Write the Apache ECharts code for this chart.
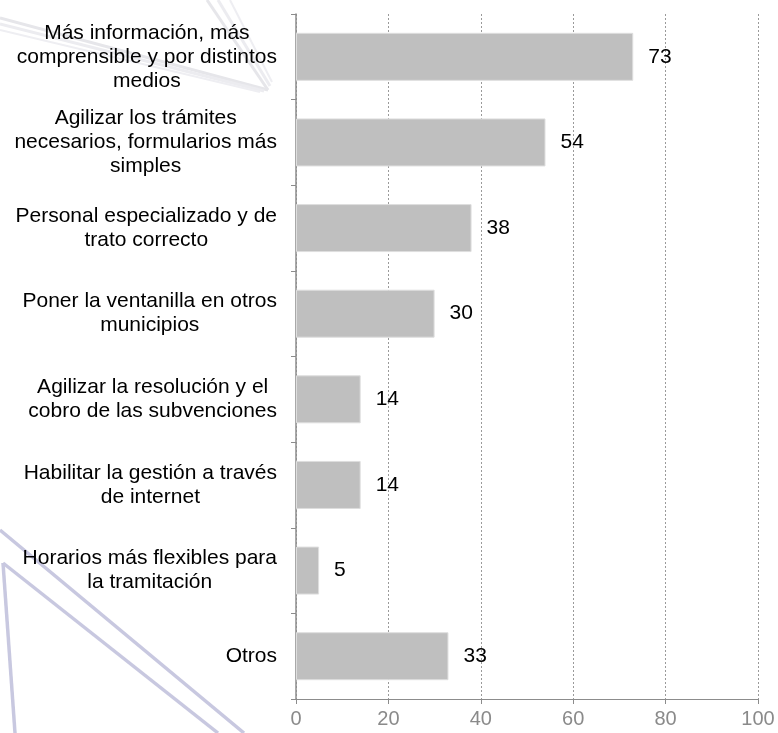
<!DOCTYPE html>
<html>
<head>
<meta charset="utf-8">
<script src="https://cdn.jsdelivr.net/npm/echarts@6/dist/echarts.min.js"></script>
<style>html,body{margin:0;padding:0;background:#fff}#c{width:778px;height:733px}</style>
</head>
<body>
<div id="c"></div>
<script>
const categories = [
  'Más información, más\ncomprensible y por distintos\nmedios',
  'Agilizar los trámites\nnecesarios, formularios más\nsimples',
  'Personal especializado y de\ntrato correcto',
  'Poner la ventanilla en otros\nmunicipios',
  'Agilizar la resolución y el\ncobro de las subvenciones',
  'Habilitar la gestión a través\nde internet',
  'Horarios más flexibles para\nla tramitación',
  'Otros'
];
const values = [73, 54, 38, 30, 14, 14, 5, 33];
const xTicks = [0, 20, 40, 60, 80, 100];

const chart = echarts.init(document.getElementById('c'), null, {renderer: 'canvas'});
const FONT = '"Liberation Sans", Arial, sans-serif';
const wm = (pts, color, w) => ({
  type: 'polyline', z: -10, silent: true,
  shape: {points: pts},
  style: {stroke: color, lineWidth: w, fill: null}
});
chart.setOption({
  animation: false,
  backgroundColor: '#ffffff',
  graphic: [
    wm([[0, 18], [268, 90]], '#e6e6ea', 3),
    wm([[0, 24], [264, 91]], '#ececf0', 3),
    wm([[0, 30], [260, 92]], '#eeeef2', 2),
    wm([[207, 0], [268, 90]], '#e6e6ea', 3),
    wm([[218, 0], [270, 86]], '#ececf0', 3),
    wm([[230, 0], [272, 82]], '#eeeef2', 2),
    wm([[0, 530], [244, 733]], '#c8c8e0', 3.5),
    wm([[3, 563], [218, 733]], '#c8c8e0', 3.5),
    wm([[3, 563], [15, 733]], '#c8c8e0', 3.5)
  ],
  grid: {left: 296, right: 20, top: 14, bottom: 34, containLabel: false},
  xAxis: {
    type: 'value', min: xTicks[0], max: xTicks[xTicks.length - 1], interval: 20,
    axisLine: {show: true, lineStyle: {color: '#8c8c8c', width: 1}},
    axisTick: {show: true, length: 5, lineStyle: {color: '#8c8c8c'}},
    axisLabel: {color: '#8a8a8a', fontSize: 20, fontFamily: FONT, margin: 10},
    splitLine: {show: true, lineStyle: {color: '#9a9a9a', type: [2, 2], width: 1}}
  },
  yAxis: {
    type: 'category', inverse: true, data: categories,
    axisLine: {show: true, lineStyle: {color: '#8c8c8c', width: 1.5}},
    axisTick: {show: true, length: 5, alignWithLabel: false, lineStyle: {color: '#8c8c8c'}},
    axisLabel: {
      color: '#000', fontSize: 21, fontFamily: FONT, margin: 19, align: 'right',
      formatter: v => v.split('\n').map(s => '{c|' + s + '}').join('\n'),
      rich: {c: {align: 'center', fontSize: 21, fontFamily: FONT, color: '#000', lineHeight: 24}}
    },
    splitLine: {show: false}
  },
  series: [{
    type: 'bar', data: values, barWidth: 48,
    itemStyle: {color: '#bfbfbf', borderColor: '#dedede', borderWidth: 1},
    label: {show: true, position: 'right', distance: 15, color: '#000', fontSize: 21, fontFamily: FONT}
  }]
});
</script>
</body>
</html>
